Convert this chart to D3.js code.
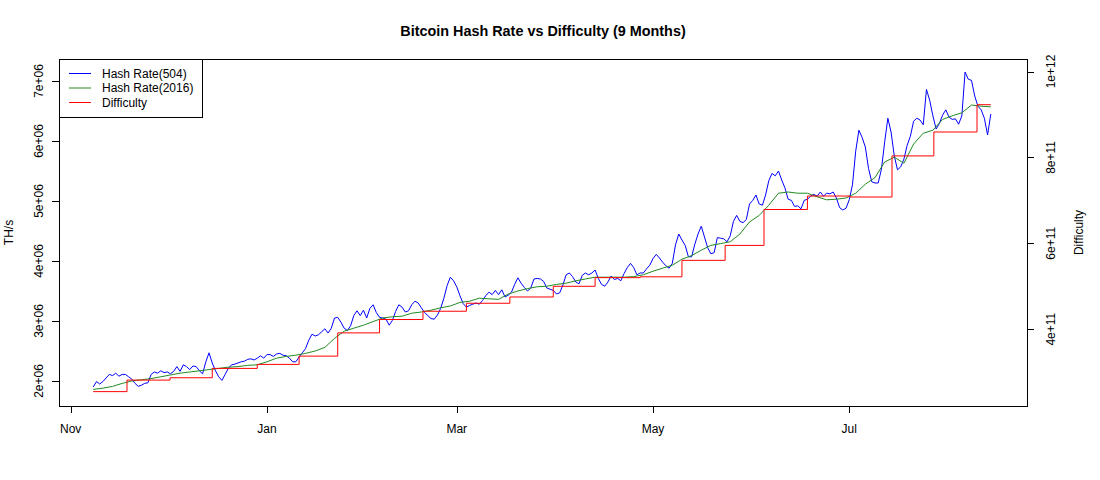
<!DOCTYPE html>
<html>
<head>
<meta charset="utf-8">
<script src="https://cdn.jsdelivr.net/npm/d3@7"></script>
<style>
    body { margin: 0; background: #fff; }
    text { font-family: "Liberation Sans", Arial, Helvetica, sans-serif; fill: #000; }
</style>
</head>
<body>
<div id="viz"></div>
<script>
// hash rate vs difficulty, Nov 2016 - Aug 2017
// hash rates in millions of TH/s, one value per day from startDate
const startDate = Date.UTC(2016, 10, 8);
const dayMs = 864e5;

const hash504 = [
    1.90, 1.99, 1.95, 1.99, 2.05, 2.11, 2.09, 2.13, 2.08, 2.11,
    2.11, 2.07, 2.03, 1.96, 1.91, 1.93, 1.96, 1.97, 2.11, 2.15,
    2.13, 2.17, 2.14, 2.15, 2.12, 2.16, 2.24, 2.16, 2.27, 2.24,
    2.19, 2.25, 2.24, 2.17, 2.12, 2.32, 2.47, 2.30, 2.17, 2.07,
    2.01, 2.11, 2.21, 2.27, 2.28, 2.30, 2.32, 2.33, 2.36, 2.37,
    2.35, 2.38, 2.42, 2.38, 2.44, 2.44, 2.41, 2.45, 2.46, 2.43,
    2.42, 2.38, 2.32, 2.32, 2.40, 2.47, 2.54, 2.68, 2.78, 2.75,
    2.77, 2.82, 2.87, 2.80, 2.88, 3.05, 3.06, 2.98, 2.88, 2.84,
    2.92, 3.09, 3.17, 3.09, 3.18, 3.05, 3.21, 3.27, 3.14, 3.06,
    3.05, 3.03, 2.93, 3.01, 3.16, 3.27, 3.23, 3.15, 3.17, 3.27,
    3.33, 3.30, 3.22, 3.14, 3.09, 3.04, 3.03, 3.10, 3.21, 3.38,
    3.59, 3.73, 3.67, 3.57, 3.42, 3.29, 3.23, 3.26, 3.28, 3.30,
    3.28, 3.34, 3.42, 3.48, 3.44, 3.51, 3.44, 3.52, 3.40, 3.43,
    3.48, 3.61, 3.72, 3.63, 3.56, 3.50, 3.55, 3.70, 3.71, 3.70,
    3.66, 3.55, 3.53, 3.51, 3.45, 3.47, 3.60, 3.77, 3.80, 3.74,
    3.65, 3.62, 3.76, 3.80, 3.77, 3.80, 3.85, 3.71, 3.61, 3.58,
    3.65, 3.75, 3.69, 3.71, 3.67, 3.79, 3.89, 3.96, 3.89, 3.77,
    3.80, 3.80, 3.87, 3.93, 4.04, 4.11, 4.05, 3.98, 3.92, 3.88,
    3.96, 4.27, 4.45, 4.35, 4.26, 4.07, 4.07, 4.28, 4.45, 4.58,
    4.40, 4.22, 4.12, 4.14, 4.39, 4.38, 4.37, 4.32, 4.42, 4.66,
    4.76, 4.66, 4.64, 4.69, 4.95, 5.01, 5.10, 4.95, 4.93, 5.10,
    5.34, 5.46, 5.42, 5.50, 5.35, 5.22, 5.03, 5.01, 4.91, 4.92,
    4.87, 5.01, 5.03, 5.08, 5.11, 5.08, 5.15, 5.08, 5.13, 5.12,
    5.15, 5.05, 4.89, 4.85, 4.88, 5.02, 5.27, 5.83, 6.18, 6.06,
    5.90, 5.54, 5.32, 5.30, 5.30, 5.53, 5.98, 6.38, 6.15, 5.75,
    5.52, 5.57, 5.70, 5.93, 6.08, 6.33, 6.38, 6.35, 6.27, 6.86,
    6.68, 6.42, 6.20, 6.29, 6.43, 6.52, 6.40, 6.36, 6.37, 6.28,
    6.42, 7.15, 7.03, 7.01, 6.75, 6.58, 6.52, 6.38, 6.10, 6.45
];

// one value every 3 days
const hash2016 = [
    1.86, 1.88, 1.91, 1.96, 2.00, 2.02, 2.04, 2.07, 2.10, 2.13,
    2.15, 2.17, 2.19, 2.21, 2.23, 2.24, 2.26, 2.27, 2.32, 2.38,
    2.41, 2.43, 2.46, 2.50, 2.56, 2.71, 2.83, 2.88, 2.93, 2.99,
    3.05, 3.07, 3.08, 3.13, 3.15, 3.18, 3.22, 3.25, 3.31, 3.33,
    3.38, 3.37, 3.36, 3.45, 3.50, 3.54, 3.57, 3.58, 3.61, 3.63,
    3.67, 3.70, 3.73, 3.73, 3.73, 3.73, 3.74, 3.77, 3.83, 3.88,
    3.93, 4.03, 4.09, 4.18, 4.26, 4.29, 4.32, 4.45, 4.65, 4.76,
    4.93, 5.13, 5.15, 5.13, 5.13, 5.07, 5.02, 5.03, 5.05, 5.13,
    5.28, 5.39, 5.65, 5.73, 5.63, 5.95, 6.13, 6.18, 6.36, 6.42,
    6.47, 6.60, 6.58, 6.57
];

// difficulty retargets (billions)
const diffDates = [
    "2016-11-08T00:00:00Z", "2016-11-18T12:00:00Z", "2016-12-01T21:00:00Z", "2016-12-15T00:00:00Z",
    "2016-12-29T00:00:00Z", "2017-01-11T00:00:00Z", "2017-01-23T00:00:00Z", "2017-02-05T00:00:00Z",
    "2017-02-18T12:00:00Z", "2017-03-04T00:00:00Z", "2017-03-17T12:00:00Z", "2017-03-31T00:00:00Z",
    "2017-04-13T00:00:00Z", "2017-04-27T00:00:00Z", "2017-05-10T00:00:00Z", "2017-05-23T10:00:00Z",
    "2017-06-04T12:00:00Z", "2017-06-18T00:00:00Z", "2017-07-01T05:00:00Z", "2017-07-14T07:00:00Z",
    "2017-07-27T07:00:00Z", "2017-08-09T17:00:00Z"
];
const diffValues = [
    254.6, 281.5, 286.9, 308.7, 318.0, 337.3, 391.4, 422.5, 441.8, 460.4, 475.0,
    499.9, 520.0, 522.0, 560.3, 595.1, 678.7, 710.1, 707.8, 803.5, 859.2, 922.7
];
const diffEnd = "2017-08-14T00:00:00Z";

const leftTicks = [2e6, 3e6, 4e6, 5e6, 6e6, 7e6];
const rightTicks = [4e11, 6e11, 8e11, 1e12];
const seriesNames = ["Hash Rate(504)", "Hash Rate(2016)", "Difficulty"];
const seriesColors = ["#0000ff", "#228b22", "#ff0000"];

function drawChart() {
    var dimensions = {
        width: 1100,
        height: 480,
        margins: {
            top: 59,
            left: 59,
            right: 73,
            bottom: 74
        }
    }
    dimensions.boundedWidth = dimensions.width - dimensions.margins.left - dimensions.margins.right;
    dimensions.boundedHeight = dimensions.height - dimensions.margins.top - dimensions.margins.bottom;

    const h504 = hash504.map((v, i) => ({ date: new Date(startDate + i * dayMs), value: v * 1e6 }));
    const h2016 = hash2016.map((v, i) => ({ date: new Date(startDate + i * 3 * dayMs), value: v * 1e6 }));
    const diff = diffDates.map((d, i) => ({ date: new Date(d), value: diffValues[i] * 1e9 }));
    diff.push({ date: new Date(diffEnd), value: diff[diff.length - 1].value });

    const viz = d3.select('#viz').append('svg')
        .attr('width', dimensions.width)
        .attr('height', dimensions.height);

    const bounds = viz.append('g')
        .attr('transform', `translate(${dimensions.margins.left}, ${dimensions.margins.top})`);

    // scales
    const xScale = d3.scaleUtc()
        .domain([new Date(Date.UTC(2016, 9, 28, 8, 40)), new Date(Date.UTC(2017, 7, 25, 6))])
        .range([0, dimensions.boundedWidth]);

    const yLeft = d3.scaleLinear()
        .domain([1.583e6, 7.367e6])
        .range([dimensions.boundedHeight, 0]);

    // difficulty axis lines up with hash rate: D = H * 600 / 2^32
    const k = 600e12 / Math.pow(2, 32);
    const yRight = d3.scaleLinear()
        .domain(yLeft.domain().map(v => v * k))
        .range([dimensions.boundedHeight, 0]);

    const sci = v => {
        const e = Math.floor(Math.log10(v) + 1e-9);
        const m = Math.round(v / Math.pow(10, e));
        return `${m}e+${String(e).padStart(2, '0')}`;
    };

    // lines
    const hashLine = d3.line()
        .x(d => xScale(d.date))
        .y(d => yLeft(d.value));

    const diffLine = d3.line()
        .x(d => xScale(d.date))
        .y(d => yRight(d.value))
        .curve(d3.curveStepAfter);

    bounds.append('path')
        .datum(h504)
        .attr('fill', 'none')
        .attr('stroke', seriesColors[0])
        .attr('stroke-width', 1)
        .attr('d', hashLine);

    bounds.append('path')
        .datum(h2016)
        .attr('fill', 'none')
        .attr('stroke', seriesColors[1])
        .attr('stroke-width', 1)
        .attr('d', hashLine);

    bounds.append('path')
        .datum(diff)
        .attr('fill', 'none')
        .attr('stroke', seriesColors[2])
        .attr('stroke-width', 1)
        .attr('d', diffLine);

    // box
    bounds.append('rect')
        .attr('x', 0.5)
        .attr('y', 0.5)
        .attr('width', dimensions.boundedWidth)
        .attr('height', dimensions.boundedHeight)
        .attr('fill', 'none')
        .attr('stroke', '#000')
        .attr('shape-rendering', 'crispEdges');

    // axes (tick marks only, labels placed by hand like R)
    const xAxis = bounds.append('g')
        .attr('transform', `translate(0, ${dimensions.boundedHeight})`)
        .call(d3.axisBottom(xScale).ticks(d3.utcMonth.every(2)).tickSize(7).tickFormat(''));
    const leftAxis = bounds.append('g')
        .call(d3.axisLeft(yLeft).tickValues(leftTicks).tickSize(7).tickFormat(''));
    const rightAxis = bounds.append('g')
        .attr('transform', `translate(${dimensions.boundedWidth}, 0)`)
        .call(d3.axisRight(yRight).tickValues(rightTicks).tickSize(7).tickFormat(''));
    [xAxis, leftAxis, rightAxis].forEach(a => {
        a.select('.domain').remove();
        a.selectAll('line').attr('stroke', '#000').attr('shape-rendering', 'crispEdges');
    });

    bounds.append('g').selectAll('text')
        .data(xScale.ticks(d3.utcMonth.every(2)))
        .join('text')
        .attr('x', d => xScale(d))
        .attr('y', dimensions.boundedHeight + 27)
        .attr('text-anchor', 'middle')
        .style('font-size', '12px')
        .text(d3.utcFormat('%b'));

    bounds.append('g').selectAll('text')
        .data(leftTicks)
        .join('text')
        .attr('transform', d => `translate(-16, ${yLeft(d)}) rotate(-90)`)
        .attr('text-anchor', 'middle')
        .style('font-size', '12px')
        .text(sci);

    bounds.append('g').selectAll('text')
        .data(rightTicks)
        .join('text')
        .attr('transform', d => `translate(${dimensions.boundedWidth + 28}, ${yRight(d)}) rotate(-90)`)
        .attr('text-anchor', 'middle')
        .style('font-size', '12px')
        .text(sci);

    bounds.append('text')
        .attr('transform', `translate(-46, ${dimensions.boundedHeight / 2}) rotate(-90)`)
        .attr('text-anchor', 'middle')
        .style('font-size', '12px')
        .text('TH/s');

    bounds.append('text')
        .attr('transform', `translate(${dimensions.boundedWidth + 56}, ${dimensions.boundedHeight / 2}) rotate(-90)`)
        .attr('text-anchor', 'middle')
        .style('font-size', '12px')
        .text('Difficulty');

    // title
    viz.append('text')
        .attr('x', dimensions.margins.left + dimensions.boundedWidth / 2)
        .attr('y', 36)
        .attr('text-anchor', 'middle')
        .style('font-size', '14.4px')
        .style('font-weight', 'bold')
        .text('Bitcoin Hash Rate vs Difficulty (9 Months)');

    // legend
    const legend = bounds.append('g');
    legend.append('rect')
        .attr('x', 0.5)
        .attr('y', 0.5)
        .attr('width', 143)
        .attr('height', 58)
        .attr('fill', '#fff')
        .attr('stroke', '#000')
        .attr('shape-rendering', 'crispEdges');

    const rows = legend.selectAll('g.row')
        .data(seriesNames)
        .join('g')
        .attr('class', 'row')
        .attr('transform', (d, i) => `translate(0, ${14.5 + i * 14.5})`);
    rows.append('line')
        .attr('x1', 10)
        .attr('x2', 32)
        .attr('stroke', (d, i) => seriesColors[i]);
    rows.append('text')
        .attr('x', 43)
        .attr('dy', '0.35em')
        .style('font-size', '12px')
        .text(d => d);
}

drawChart();
</script>
</body>
</html>
